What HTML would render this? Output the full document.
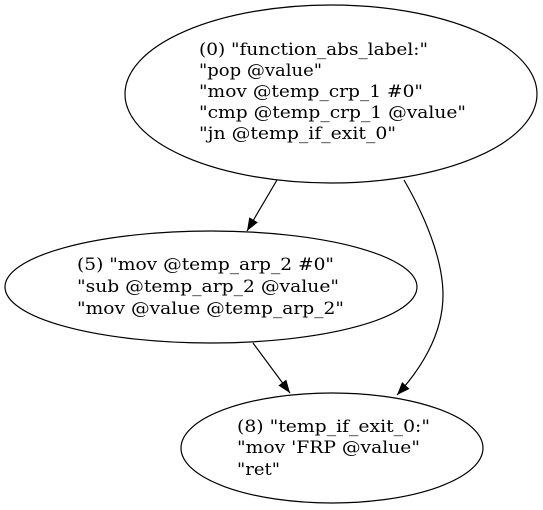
<!DOCTYPE html>
<html><head><meta charset="utf-8"><style>
html,body{margin:0;padding:0;background:#fff;}
svg{display:block;}
text{font-family:"DejaVu Serif","Liberation Serif",serif;font-size:17px;fill:#000;}
</style></head><body>
<svg width="543" height="510" viewBox="0 0 543 510" xmlns="http://www.w3.org/2000/svg">
<defs><marker id="a" markerWidth="13" markerHeight="10" refX="13" refY="5" orient="auto" markerUnits="userSpaceOnUse"><path d="M0,0 L13,5 L0,10 z" fill="#000"/></marker></defs>
<g fill="none" stroke="#000" stroke-width="1.2">
<ellipse cx="331" cy="94" rx="206" ry="89"/>
<ellipse cx="211" cy="287" rx="206" ry="56"/>
<ellipse cx="332" cy="448" rx="151" ry="55"/>
<path d="M277,180 L247,231" marker-end="url(#a)"/>
<path d="M253,343 L290,393" marker-end="url(#a)"/>
<path d="M404,180 C430,225 443,265 443,295 C443,335 420,370 397,395" marker-end="url(#a)"/>
</g>
<text x="199" y="55" textLength="229" lengthAdjust="spacingAndGlyphs">(0) "function_abs_label:"</text>
<text x="199" y="76" textLength="123" lengthAdjust="spacingAndGlyphs">"pop @value"</text>
<text x="199" y="97" textLength="224" lengthAdjust="spacingAndGlyphs">"mov @temp_crp_1 #0"</text>
<text x="199" y="118" textLength="267" lengthAdjust="spacingAndGlyphs">"cmp @temp_crp_1 @value"</text>
<text x="199" y="139" textLength="197" lengthAdjust="spacingAndGlyphs">"jn @temp_if_exit_0"</text>
<text x="77" y="270" textLength="257" lengthAdjust="spacingAndGlyphs">(5) "mov @temp_arp_2 #0"</text>
<text x="77" y="292" textLength="262" lengthAdjust="spacingAndGlyphs">"sub @temp_arp_2 @value"</text>
<text x="77" y="314" textLength="267" lengthAdjust="spacingAndGlyphs">"mov @value @temp_arp_2"</text>
<text x="237" y="432" textLength="193" lengthAdjust="spacingAndGlyphs">(8) "temp_if_exit_0:"</text>
<text x="237" y="453" textLength="183" lengthAdjust="spacingAndGlyphs">"mov 'FRP @value"</text>
<text x="237" y="475" textLength="43" lengthAdjust="spacingAndGlyphs">"ret"</text>
</svg>
</body></html>
